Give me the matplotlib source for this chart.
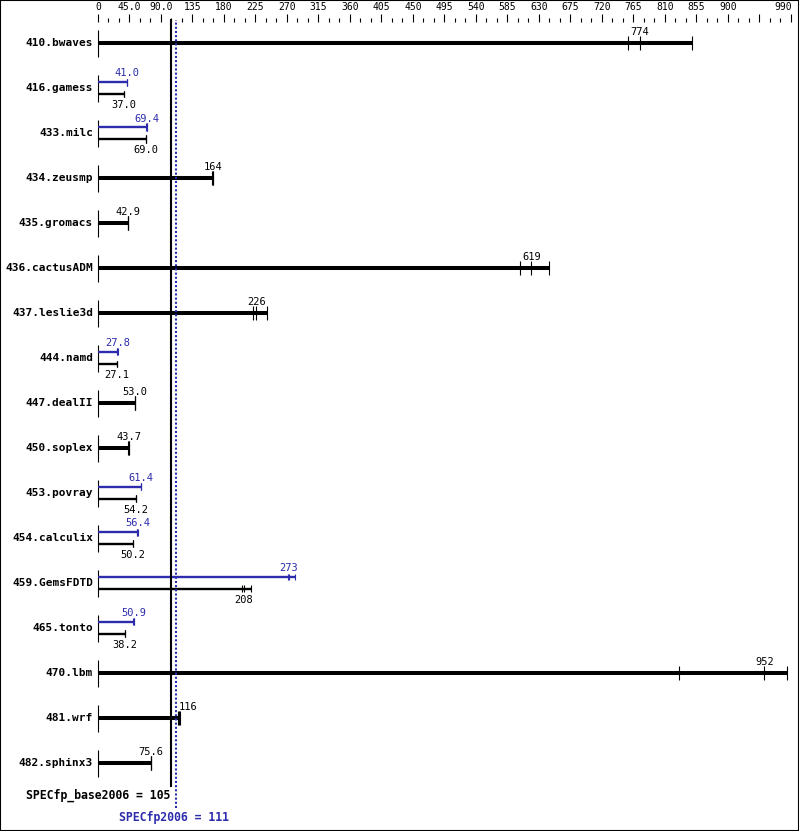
import matplotlib
matplotlib.use("Agg")
import matplotlib.pyplot as plt

# benchmark names, top to bottom
names = ["410.bwaves", "416.gamess", "433.milc", "434.zeusmp", "435.gromacs",
         "436.cactusADM", "437.leslie3d", "444.namd", "447.dealII", "450.soplex",
         "453.povray", "454.calculix", "459.GemsFDTD", "465.tonto", "470.lbm",
         "481.wrf", "482.sphinx3"]

# base ratios: three runs each, and the median that is printed
base_runs = [[757, 774, 849], [36.9, 37.0, 37.1], [68.8, 69.0, 69.2], [163, 164, 165],
             [42.7, 42.9, 43.0], [603, 619, 644], [222, 226, 242], [27.0, 27.1, 27.2],
             [52.8, 53.0, 53.2], [43.5, 43.7, 43.8], [54.0, 54.2, 54.4], [50.0, 50.2, 50.4],
             [206, 208, 218], [38.0, 38.2, 38.4], [830, 952, 984], [115, 116, 117],
             [75.4, 75.6, 75.8]]
base_med = [774, 37.0, 69.0, 164, 42.9, 619, 226, 27.1, 53.0, 43.7, 54.2, 50.2,
            208, 38.2, 952, 116, 75.6]

# peak ratios (None = no separate peak result)
peak_runs = [None, [40.8, 41.0, 41.2], [69.2, 69.4, 69.6], None, None, None, None,
             [27.7, 27.8, 27.9], None, None, [61.2, 61.4, 62.0], [56.2, 56.4, 56.8],
             [272, 273, 282], [50.7, 50.9, 51.1], None, None, None]
peak_med = [None, 41.0, 69.4, None, None, None, None, 27.8, None, None, 61.4, 56.4,
            273, 50.9, None, None, None]

base_score = 105
peak_score = 111

tick_major = list(range(0, 991, 45))
tick_minor = [v for v in range(0, 991, 15) if v % 45]
tick_text = {0: "0", 45: "45.0", 90: "90.0"}
tick_labels = [(v, tick_text.get(v, str(v))) for v in tick_major if v != 945]

BLUE = "#2c2cac"
MONO = "DejaVu Sans Mono"
W, H = 799, 831
ROW = 45.0  # pixels per row


def fmt(v):
    return f"{v:.1f}" if v < 100 else f"{v:.0f}"


fig = plt.figure(figsize=(W / 100, H / 100), dpi=100)
ax = fig.add_axes([0, 0, 1, 1])
ax.set_xlim(-140, 1001.43)
ax.set_ylim((H - 43) / ROW, -43 / ROW)
ax.set_xticks([])
ax.set_yticks([])
for s in ax.spines.values():
    s.set_linewidth(1.5)

# top scale
tr = ax.get_xaxis_transform()
ax.vlines(tick_major, 1 - 22 / H, 1 - 14 / H, transform=tr, color="k", lw=0.8)
ax.vlines(tick_minor, 1 - 22 / H, 1 - 18 / H, transform=tr, color="k", lw=0.8)
for v, lab in tick_labels:
    ha = "right" if v == tick_major[-1] else "center"
    ax.text(v + (1 if ha == "right" else 0), 1 - 7 / H, lab, transform=tr,
            ha=ha, va="center", fontsize=7, family=MONO)

for i, name in enumerate(names):
    ax.text(-7, i, name, ha="right", va="center", fontsize=8,
            fontweight="bold", family=MONO)
    ax.vlines(0, i - 13 / ROW, i + 14 / ROW, color="k", lw=0.8)
    if peak_runs[i] is None:
        runs = base_runs[i]
        ax.hlines(i, 0, max(runs), color="k", lw=2.9)
        ax.vlines(runs, i - 7 / ROW, i + 7 / ROW, color="k", lw=0.8)
        # keep the label clear of the score line
        ha = "left" if abs(base_med[i] - base_score) < 15 else "center"
        ax.text(base_med[i] + (-1 if ha == "left" else 0), i - 11 / ROW,
                fmt(base_med[i]), ha=ha, va="center", fontsize=7.5, family=MONO)
    else:
        yp = i - 6 / ROW
        yb = i + 6 / ROW
        ax.hlines(yp, 0, max(peak_runs[i]), color=BLUE, lw=1.7)
        ax.vlines(peak_runs[i], yp - 3.5 / ROW, yp + 3.5 / ROW, color=BLUE, lw=0.8)
        ax.text(peak_med[i], i - 14.5 / ROW, fmt(peak_med[i]), ha="center",
                va="center", fontsize=7.5, family=MONO, color=BLUE)
        ax.hlines(yb, 0, max(base_runs[i]), color="k", lw=1.7)
        ax.vlines(base_runs[i], yb - 3.5 / ROW, yb + 3.5 / ROW, color="k", lw=0.8)
        ax.text(base_med[i], i + 17 / ROW, fmt(base_med[i]), ha="center",
                va="center", fontsize=7.5, family=MONO)

# overall scores
ax.axvline(base_score, ymin=1 - 786 / H, ymax=1 - 20 / H, color="k", lw=1.5)
ax.axvline(peak_score, ymin=1 - 808 / H, ymax=1 - 20 / H, color=BLUE, lw=1.5,
           linestyle=(0, (1, 1)))
ax.text(base_score - 2, 1 - 795 / H, f"SPECfp_base2006 = {base_score}",
        transform=tr, ha="right", va="center", fontsize=8.3,
        fontweight="bold", family=MONO)
ax.text(peak_score - 2, 1 - 817 / H, f"SPECfp2006 = {peak_score}",
        transform=tr, ha="center", va="center", fontsize=8.3,
        fontweight="bold", family=MONO, color=BLUE)

fig.savefig("out.png", dpi=100)
